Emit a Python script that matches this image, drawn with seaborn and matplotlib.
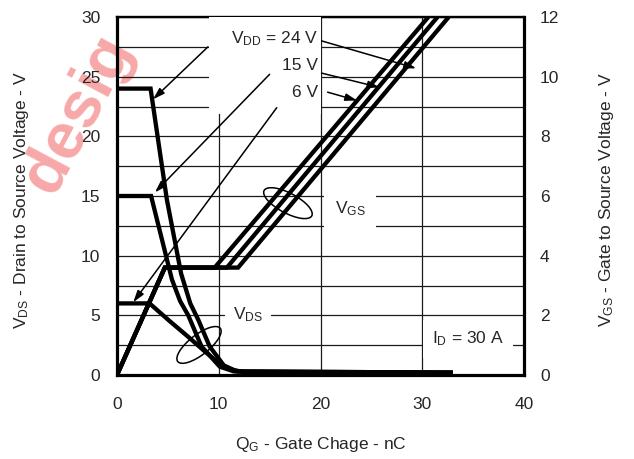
import matplotlib
matplotlib.use("Agg")
import matplotlib.pyplot as plt
import matplotlib.transforms as mtransforms
from matplotlib.patches import Ellipse, Rectangle
import seaborn as sns

# V_DS curves (left axis, V) vs gate charge (nC)
q_vds_6 = [0, 3.2, 5.2, 7.0, 8.6, 10.0, 11.2, 12.5, 33]
vds_6 = [6, 6, 4.5, 3.2, 2.0, 1.0, 0.45, 0.25, 0.2]
q_vds_15 = [0, 3.35, 5.4, 6.2, 7.0, 8.3, 10.1, 11.5, 33]
vds_15 = [15, 15, 8.0, 6.2, 5.0, 2.4, 0.7, 0.3, 0.2]
q_vds_24 = [0, 3.3, 4.9, 6.3, 7.2, 8.0, 9.1, 10.5, 11.8, 33]
vds_24 = [24, 24, 14.7, 8.5, 6.0, 4.6, 2.4, 0.8, 0.3, 0.2]

# V_GS curves (right axis, V)
q_vgs_6 = [0, 4.7, 9.6, 30.6]
q_vgs_15 = [0, 4.7, 10.8, 31.5]
q_vgs_24 = [0, 4.7, 11.9, 32.6]
vgs = [0, 3.6, 3.6, 12]

x_ticks = [0, 10, 20, 30, 40]
left_ticks = [0, 5, 10, 15, 20, 25, 30]
right_ticks = [0, 2, 4, 6, 8, 10, 12]

sns.set_style("white")
plt.rcParams['font.family'] = ['Liberation Sans', 'DejaVu Sans']
plt.rcParams['mathtext.fontset'] = 'custom'
plt.rcParams['mathtext.rm'] = 'Liberation Sans'
FS = 12.5

fig = plt.figure(figsize=(6.34, 4.59), dpi=100, facecolor='white')
ax = fig.add_axes([117 / 634, 1 - 375 / 459, 407 / 634, 358 / 459])
ax.patch.set_alpha(0)
ax2 = ax.twinx()

# pink watermark behind everything
fig.text(78 / 634, 1 - 114 / 459, "desig", rotation=62, fontsize=47, fontweight='bold',
         color='#f7a8a8', ha='center', va='center', zorder=-5)

lw = 3.1
for q, v in [(q_vds_6, vds_6), (q_vds_15, vds_15), (q_vds_24, vds_24)]:
    sns.lineplot(x=q, y=v, ax=ax, color='black', linewidth=lw, sort=False,
                 estimator=None, solid_joinstyle='miter', solid_capstyle='butt')
for q in [q_vgs_6, q_vgs_15, q_vgs_24]:
    sns.lineplot(x=q, y=vgs, ax=ax2, color='black', linewidth=lw, sort=False,
                 estimator=None, solid_joinstyle='miter', solid_capstyle='butt')

ax.set_xlim(0, 40)
ax.set_ylim(0, 30)
ax2.set_ylim(0, 12)
ax.set_xticks(x_ticks)
ax.set_yticks(left_ticks)
ax.set_yticks([2.5, 7.5, 12.5, 17.5, 22.5, 27.5], minor=True)
ax2.set_yticks(right_ticks)
ax.grid(which='both', axis='y', color='#1a1a1a', lw=0.9)
ax.grid(which='major', axis='x', color='#1a1a1a', lw=0.9)
ax.tick_params(axis='x', length=0, pad=16, labelsize=FS)
ax.tick_params(axis='y', which='both', length=0, pad=12, labelsize=FS)
ax2.tick_params(axis='y', length=0, pad=11.5, labelsize=FS)
ax.set_xlabel("")
ax.set_ylabel("")
ax2.set_ylabel("")

for s in ['left', 'bottom']:
    ax.spines[s].set_linewidth(2.3)
    ax.spines[s].set_color('black')
ax.spines['top'].set_linewidth(1.7)
ax.spines['top'].set_color('black')
ax.spines['right'].set_visible(False)
for s in ['left', 'bottom', 'top']:
    ax2.spines[s].set_visible(False)
ax2.spines['right'].set_linewidth(2.3)
ax2.spines['right'].set_color('black')

# white box behind the V_DD labels
ax.add_patch(Rectangle((9.04, 21.9), 11.0, 8.1, facecolor='white',
                       edgecolor='none', zorder=2.6))
ax.text(19.75, 28.15, r"$\mathregular{V_{DD}}$ = 24 V", fontsize=FS, ha='right',
        va='center', zorder=3)
ax.text(19.75, 25.97, "15 V", fontsize=FS, ha='right', va='center', zorder=3)
ax.text(19.75, 23.7, "6 V", fontsize=FS, ha='right', va='center', zorder=3)

arrows = [((8.94, 27.5), (3.54, 23.1)), ((20.1, 28.0), (29.4, 25.7)),
          ((15.0, 25.2), (3.73, 15.3)), ((20.1, 25.3), (25.8, 24.1)),
          ((15.7, 22.4), (1.6, 6.1)), ((20.7, 23.7), (23.6, 23.0))]
for start, end in arrows:
    ax.annotate("", xy=end, xytext=start, zorder=4,
                arrowprops=dict(arrowstyle='-|>,head_length=0.7,head_width=0.22',
                                color='black', lw=1.1, shrinkA=0, shrinkB=0))

box = dict(facecolor='white', edgecolor='none')
ax.text(22.9, 13.95, r"$\mathregular{V_{GS}}$", fontsize=FS, ha='center', va='center',
        bbox=dict(boxstyle='square,pad=0.6', **box), zorder=3)
ax.text(12.87, 5.04, r"$\mathregular{V_{DS}}$", fontsize=FS, ha='center', va='center',
        bbox=dict(boxstyle='square,pad=0.45', **box), zorder=3)
ax.text(34.5, 3.03, r"$\mathregular{I_{D}}$ = 30 A", fontsize=FS, ha='center', va='center',
        bbox=dict(boxstyle='square,pad=0.55', **box), zorder=3)

# ellipses grouping the curves
for (cx, cy), ang in [((16.8, 14.4), -28), ((8.06, 2.52), 38)]:
    tr = fig.dpi_scale_trans + mtransforms.ScaledTranslation(cx, cy, ax.transData)
    ax.add_patch(Ellipse((0, 0), 0.54, 0.2, angle=ang, transform=tr, fill=False,
                         edgecolor='black', lw=1.1, zorder=4))

fig.text(320.5 / 634, 1 - 444 / 459, r"$\mathregular{Q_{G}}$ - Gate Chage - nC",
         fontsize=FS, ha='center', va='center')
fig.text(22 / 634, 1 - 200 / 459, r"$\mathregular{V_{DS}}$ - Drain to Source Voltage - V",
         fontsize=FS, ha='center', va='center', rotation=90)
fig.text(606 / 634, 1 - 200 / 459, r"$\mathregular{V_{GS}}$ - Gate to Source Voltage - V",
         fontsize=FS, ha='center', va='center', rotation=90)

fig.savefig("out.png", dpi=100, facecolor='white')
